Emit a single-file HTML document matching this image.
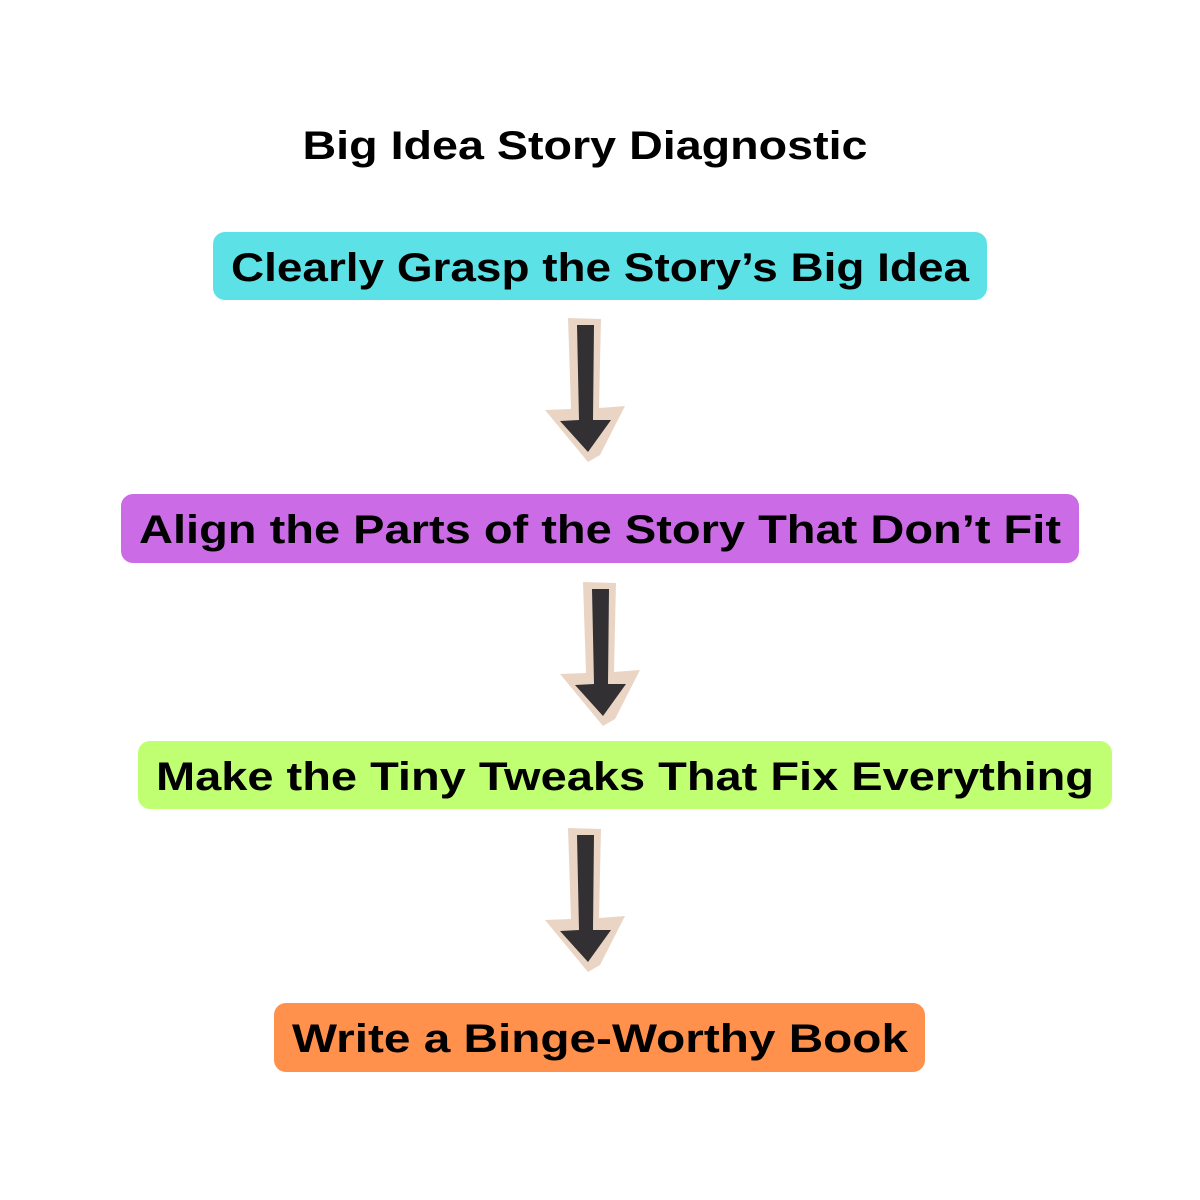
<!DOCTYPE html>
<html><head><style>body{margin:0;background:#fff}svg{display:block}</style></head>
<body>
<svg width="1200" height="1200" viewBox="0 0 1200 1200" font-family="Liberation Sans, sans-serif" font-weight="bold">
<defs>
<g id="arr">
<polygon points="568,318 601,319 599,408 625,406 600,455 588,462 545,410 571,409" fill="#ead5c5"/>
<polygon points="577,325 594,325 593,420 611,420 588,452 560,421 579,420" fill="#333033"/>
</g>
</defs>
<rect width="1200" height="1200" fill="#fff"/>
<text x="585" y="159" font-size="40" text-anchor="middle" textLength="565" lengthAdjust="spacingAndGlyphs" fill="#000">Big Idea Story Diagnostic</text>
<rect x="213" y="232" width="774" height="68" rx="12" fill="#5ce1e6"/>
<text x="600" y="281" font-size="40" text-anchor="middle" textLength="738" lengthAdjust="spacingAndGlyphs">Clearly Grasp the Story’s Big Idea</text>
<use href="#arr"/>
<rect x="121" y="494" width="958" height="69" rx="12" fill="#cb6ce6"/>
<text x="600" y="543" font-size="40" text-anchor="middle" textLength="922" lengthAdjust="spacingAndGlyphs">Align the Parts of the Story That Don’t Fit</text>
<use href="#arr" transform="translate(15,264)"/>
<rect x="138" y="741" width="974" height="68" rx="12" fill="#c1ff72"/>
<text x="625" y="790" font-size="40" text-anchor="middle" textLength="938" lengthAdjust="spacingAndGlyphs">Make the Tiny Tweaks That Fix Everything</text>
<use href="#arr" transform="translate(0,510)"/>
<rect x="274" y="1003" width="651" height="69" rx="12" fill="#ff914d"/>
<text x="600" y="1052" font-size="40" text-anchor="middle" textLength="616" lengthAdjust="spacingAndGlyphs">Write a Binge-Worthy Book</text>
</svg>
</body></html>
